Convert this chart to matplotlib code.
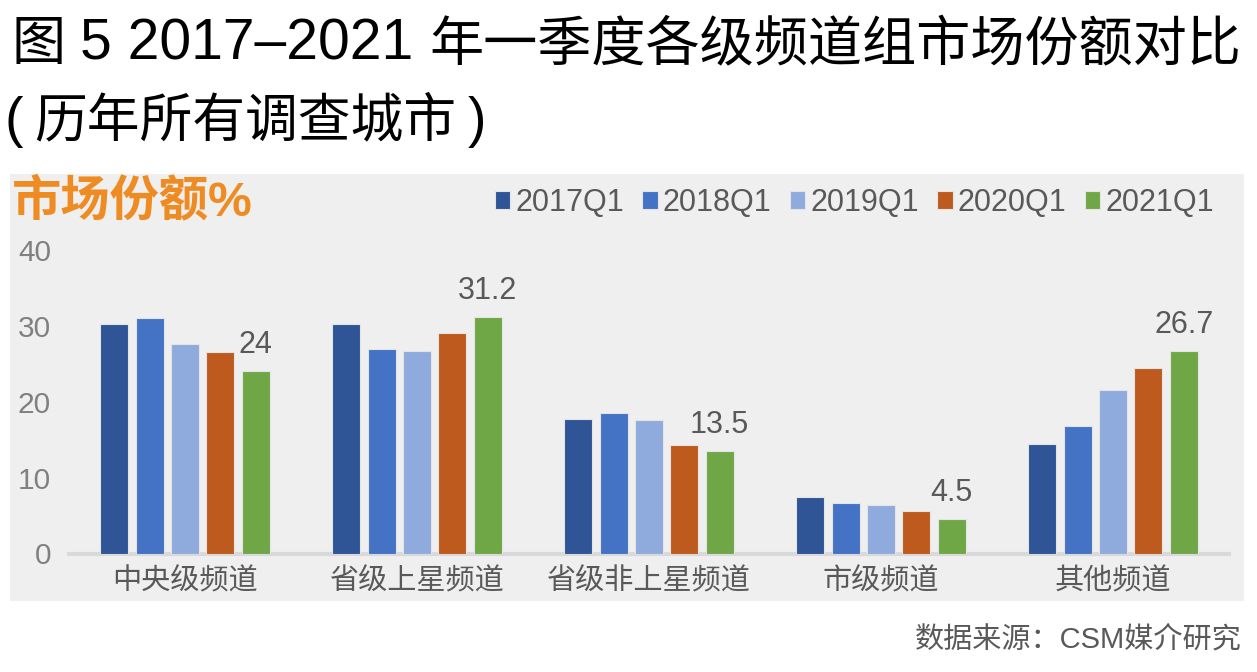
import matplotlib
matplotlib.use("Agg")
import matplotlib.pyplot as plt
import numpy as np
from matplotlib.patches import Rectangle

plt.rcParams['font.family'] = ['Liberation Sans', 'Noto Sans CJK SC', 'DejaVu Sans']

categories = ['中央级频道', '省级上星频道', '省级非上星频道', '市级频道', '其他频道']
series_names = ['2017Q1', '2018Q1', '2019Q1', '2020Q1', '2021Q1']
values_2017 = [30.2, 30.2, 17.7, 7.4, 14.4]
values_2018 = [31.0, 27.0, 18.5, 6.7, 16.8]
values_2019 = [27.6, 26.7, 17.6, 6.4, 21.5]
values_2020 = [26.6, 29.0, 14.3, 5.6, 24.4]
values_2021 = [24.0, 31.2, 13.5, 4.5, 26.7]
labels_2021 = ['24', '31.2', '13.5', '4.5', '26.7']
yticks = [0, 10, 20, 30, 40]

series = [values_2017, values_2018, values_2019, values_2020, values_2021]
colors = ['#2F5597', '#4472C4', '#8FAADC', '#BE5A1E', '#70A746']

W, H = 1257, 672
fig = plt.figure(figsize=(W / 100, H / 100), dpi=100)
fig.patch.set_facecolor('white')

# gray panel
fig.patches.append(Rectangle((10 / W, 1 - 601 / H), (1244 - 10) / W, (601 - 174) / H,
                             transform=fig.transFigure, facecolor='#efefef',
                             edgecolor='none', zorder=-5))

ax = fig.add_axes([69 / W, 1 - 553.5 / H, 1160 / W, (553.5 - 250) / H])
ax.set_facecolor('none')
ax.set_zorder(2)

x = np.arange(len(categories))
pitch = 0.1524
width = 0.121
bars = []
for i, (vals, c, name) in enumerate(zip(series, colors, series_names)):
    b = ax.bar(x + (i - 2) * pitch, vals, width, color=c, edgecolor='#e4e4e4',
               linewidth=0.8, label=name, zorder=2)
    bars.append(b)

ax.bar_label(bars[-1], labels=labels_2021, padding=8, fontsize=22, color='#595959')

ax.set_xlim(-0.5, 4.5)
ax.set_ylim(0, 40)
ax.set_yticks(yticks)
ax.set_yticklabels([str(t) for t in yticks], fontsize=21.5, color='#808080')
ax.set_xticks(x)
ax.set_xticklabels(categories, fontsize=21, color='#595959')
ax.tick_params(axis='y', length=0, pad=13)
ax.tick_params(axis='x', length=0, pad=10)
for s in ['top', 'right', 'left']:
    ax.spines[s].set_visible(False)
ax.spines['bottom'].set_color('#d9d9d9')
ax.spines['bottom'].set_linewidth(3)
ax.spines['bottom'].set_zorder(1)

leg = ax.legend(loc='center right', bbox_to_anchor=(1214 / W, 1 - 203 / H),
                bbox_transform=fig.transFigure, ncol=5, frameon=False,
                fontsize=22, handlelength=0.5, handleheight=0.5,
                handletextpad=0.17, columnspacing=0.6, borderpad=0, borderaxespad=0)
for t in leg.get_texts():
    t.set_color('#595959')

# y-axis title
fig.text(12 / W, 1 - 202 / H, '市场份额%', fontsize=35.5, fontweight='bold',
         color='#EE8C23', ha='left', va='center')

# title, line 1
base1 = 1 - 60 / H
fig.text(12 / W, base1, '图', fontsize=39, color='black', ha='left', va='baseline')
fig.text(80 / W, base1, '5 2017–2021', fontsize=41, color='black',
         ha='left', va='baseline', family=['Liberation Sans'])
fig.text(429 / W, base1, '年一季度各级频道组市场份额对比', fontsize=39,
         color='black', ha='left', va='baseline')
# title, line 2
base2 = 1 - 136 / H
fig.text(5 / W, base2, '(', fontsize=40, color='black', ha='left', va='baseline',
         family=['Liberation Sans'])
fig.text(34 / W, base2, '历年所有调查城市', fontsize=38, color='black',
         ha='left', va='baseline')
fig.text(486 / W, base2, ')', fontsize=40, color='black', ha='right', va='baseline',
         family=['Liberation Sans'])

# source
fig.text(1242 / W, 1 - 640 / H, '数据来源：CSM媒介研究', fontsize=21,
         color='#595959', ha='right', va='center')

fig.savefig('out.png', dpi=100)
